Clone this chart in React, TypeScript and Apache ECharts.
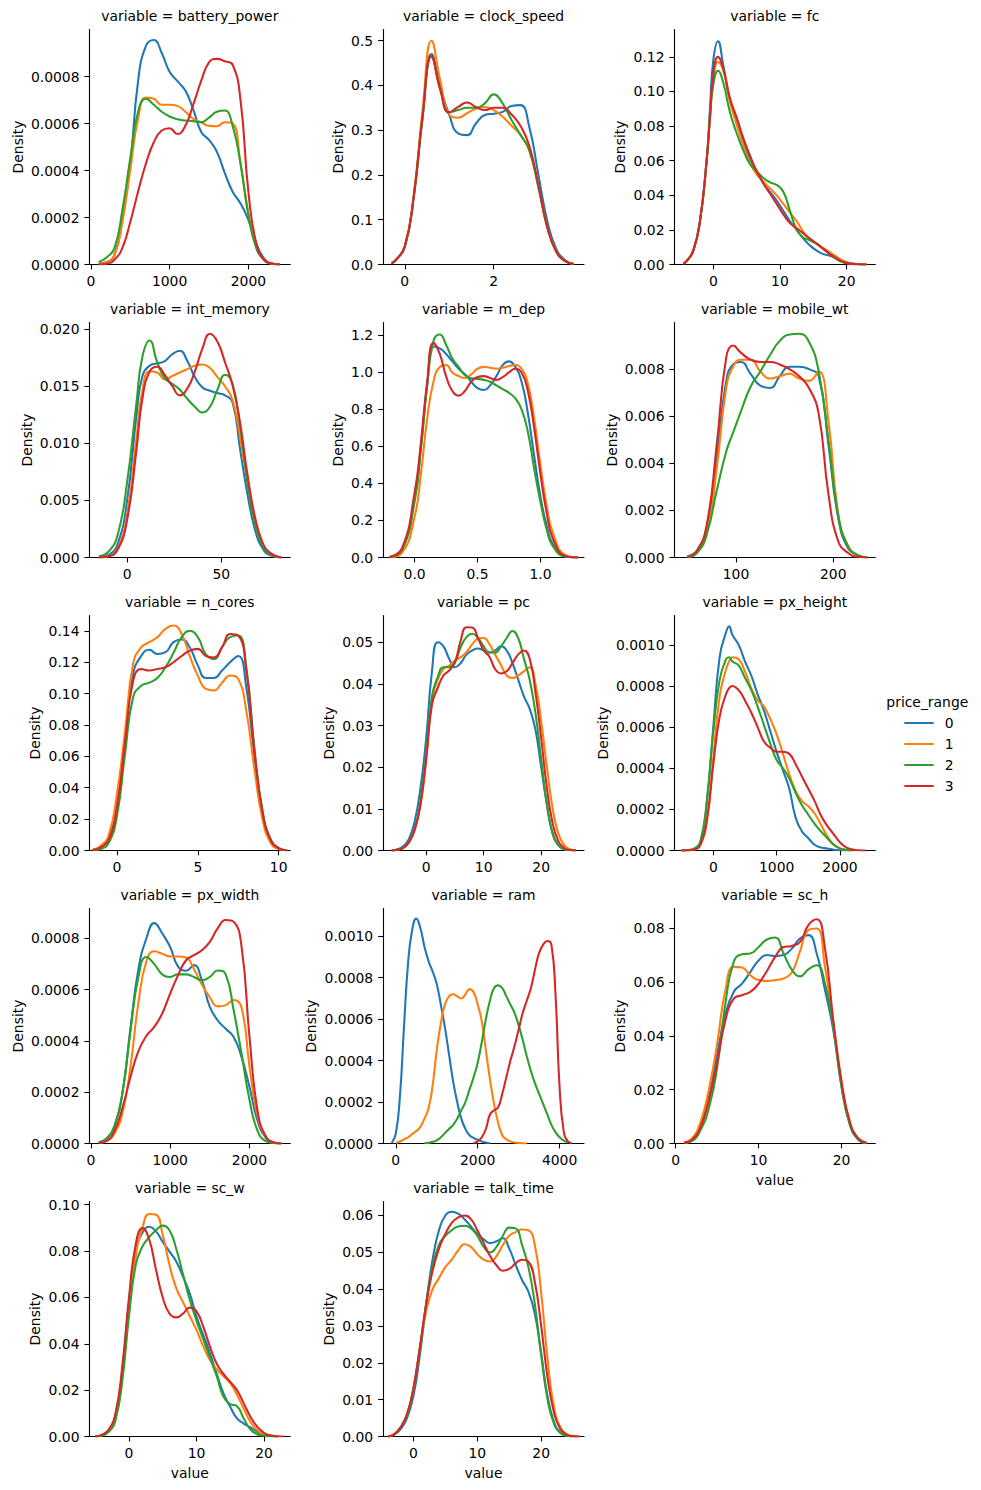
import React, { useEffect, useRef } from "react";
import * as echarts from "echarts";

const FONT_FAMILY = "DejaVu Sans";
const PRICE_RANGES = ["0", "1", "2", "3"];
const LINE_COLORS = ["#1f77b4", "#ff7f0e", "#2ca02c", "#d62728"];

// ---------- battery_power ----------
const batteryX = [100,200,300,400,500,600,700,800,900,1000,1100,1200,1300,1400,1500,1600,1700,1800,1900,2000,2100,2200,2300,2400];
const battery0 = [0.000004,0.00001,0.00004,0.00019,0.00042,0.00078,0.00093,0.000955,0.0009,0.00082,0.00078,0.00074,0.00066,0.000565,0.00053,0.00048,0.00039,0.00031,0.00026,0.00019,0.00009,0.000026,0.000004,0];
const battery1 = [0.000003,0.00001,0.00004,0.00018,0.0004,0.00062,0.00071,0.000705,0.00068,0.00068,0.000675,0.00065,0.00062,0.000605,0.00059,0.000588,0.000605,0.0006,0.00043,0.00022,0.00008,0.00002,0.000003,0];
const battery2 = [0.00001,0.00003,0.00007,0.00023,0.00045,0.00065,0.000705,0.00068,0.00065,0.00063,0.000618,0.000613,0.00061,0.000605,0.000625,0.00065,0.000655,0.00059,0.00043,0.00021,0.00007,0.00002,0.000003,0];
const battery3 = [0,0.000003,0.00002,0.00007,0.00018,0.00031,0.00043,0.00052,0.00057,0.00058,0.000555,0.00059,0.00068,0.00078,0.00086,0.000875,0.000865,0.00085,0.0007,0.00031,0.00009,0.00002,0.000004,0];
const batteryXTicks = [0, 1000, 2000];
const batteryYTicks = [0, 0.0002, 0.0004, 0.0006, 0.0008];

// ---------- clock_speed ----------
const clockX = [-0.3,-0.2,0,0.2,0.4,0.6,0.8,1.0,1.2,1.4,1.6,1.8,2.0,2.2,2.4,2.6,2.8,3.0,3.2,3.4,3.6,3.8];
const clock0 = [0.003,0.01,0.04,0.15,0.33,0.47,0.397,0.334,0.293,0.289,0.315,0.334,0.337,0.341,0.354,0.356,0.307,0.203,0.099,0.036,0.01,0.001];
const clock1 = [0.003,0.01,0.04,0.155,0.345,0.5,0.41,0.335,0.328,0.338,0.348,0.352,0.345,0.33,0.31,0.29,0.255,0.175,0.085,0.03,0.008,0.001];
const clock2 = [0.003,0.01,0.04,0.15,0.33,0.465,0.39,0.34,0.345,0.35,0.35,0.36,0.38,0.36,0.323,0.29,0.255,0.175,0.085,0.03,0.008,0.001];
const clock3 = [0.003,0.01,0.04,0.15,0.33,0.465,0.39,0.34,0.352,0.362,0.352,0.345,0.35,0.35,0.335,0.31,0.265,0.18,0.085,0.03,0.008,0.001];
const clockXTicks = [0, 2];
const clockYTicks = [0, 0.1, 0.2, 0.3, 0.4, 0.5];

// ---------- fc ----------
const fcX = [-4.5,-4,-3,-2,-1,-0.5,0,0.7,1.5,2.5,3.5,4.5,5.5,6.5,7.5,8.5,9.5,10.5,11.5,12.5,13.5,14.5,15.5,16.5,17.5,18.5,19.5,20.5,21.5,23];
const fc0 = [0.0005,0.002,0.008,0.025,0.06,0.09,0.118,0.129,0.115,0.095,0.082,0.071,0.061,0.054,0.047,0.042,0.037,0.031,0.025,0.02,0.015,0.011,0.008,0.006,0.005,0.0035,0.002,0.0008,0.0003,0];
const fc1 = [0.0005,0.002,0.008,0.025,0.06,0.085,0.108,0.117,0.112,0.094,0.081,0.069,0.059,0.052,0.048,0.044,0.04,0.035,0.03,0.025,0.019,0.014,0.012,0.0095,0.007,0.0045,0.002,0.0008,0.0002,0];
const fc2 = [0.0005,0.002,0.008,0.025,0.06,0.085,0.104,0.112,0.105,0.088,0.076,0.066,0.058,0.054,0.05,0.0475,0.046,0.042,0.031,0.02,0.0155,0.014,0.012,0.009,0.006,0.003,0.0012,0.0004,0.0001,0];
const fc3 = [0.0005,0.002,0.008,0.025,0.06,0.085,0.11,0.12,0.113,0.096,0.085,0.073,0.063,0.054,0.047,0.041,0.035,0.029,0.024,0.021,0.018,0.015,0.012,0.009,0.006,0.0035,0.0015,0.0005,0.0001,0];
const fcXTicks = [0, 10, 20];
const fcYTicks = [0, 0.02, 0.04, 0.06, 0.08, 0.1, 0.12];

// ---------- int_memory ----------
const imX = [-15,-10,-5,0,5,8,12,16,20,24,28,32,36,40,44,48,52,56,60,64,68,72,76,82];
const im0 = [0,0.0002,0.0012,0.005,0.0125,0.0158,0.0168,0.017,0.0172,0.0178,0.0181,0.0172,0.0158,0.0149,0.0146,0.0144,0.0142,0.0136,0.0095,0.0055,0.0024,0.0008,0.0002,0];
const im1 = [0,0.0001,0.0008,0.0038,0.0105,0.0145,0.0163,0.0162,0.0156,0.0159,0.0162,0.0165,0.0168,0.0169,0.0166,0.0158,0.015,0.0138,0.0105,0.0065,0.003,0.0011,0.0003,0];
const im2 = [0.0001,0.0005,0.002,0.0066,0.0136,0.0175,0.019,0.0171,0.0157,0.0152,0.0147,0.0139,0.0132,0.0127,0.0132,0.0147,0.016,0.0152,0.0115,0.0065,0.003,0.001,0.0003,0];
const im3 = [0,0.0001,0.0007,0.0033,0.0095,0.0138,0.0163,0.0167,0.016,0.015,0.0142,0.0148,0.0163,0.0183,0.0196,0.0189,0.0171,0.0151,0.0118,0.0072,0.0035,0.0013,0.0004,0];
const imXTicks = [0, 50];
const imYTicks = [0, 0.005, 0.01, 0.015, 0.02];

// ---------- m_dep ----------
const mdX = [-0.2,-0.1,0,0.05,0.1,0.15,0.2,0.25,0.3,0.35,0.4,0.45,0.5,0.55,0.6,0.65,0.7,0.75,0.8,0.85,0.9,0.95,1.0,1.05,1.1,1.2,1.3];
const md0 = [0.002,0.04,0.32,0.6,0.93,1.14,1.13,1.1,1.06,1.02,0.99,0.95,0.915,0.905,0.93,0.98,1.04,1.06,1.03,0.95,0.78,0.55,0.33,0.17,0.07,0.005,0];
const md1 = [0.001,0.025,0.22,0.45,0.75,0.95,1.03,1.04,1.0,0.98,0.97,0.99,1.02,1.03,1.025,1.02,1.025,1.035,1.04,1.02,0.94,0.75,0.5,0.28,0.13,0.012,0];
const md2 = [0.002,0.04,0.3,0.58,0.93,1.17,1.205,1.15,1.075,1.03,0.985,0.968,0.965,0.96,0.95,0.93,0.91,0.89,0.86,0.8,0.68,0.48,0.3,0.15,0.06,0.004,0];
const md3 = [0.002,0.05,0.35,0.62,0.95,1.16,1.1,0.98,0.9,0.875,0.9,0.95,0.975,0.98,0.97,0.96,0.975,1.0,1.02,1.0,0.9,0.7,0.45,0.24,0.1,0.008,0];
const mdXTicks = [0, 0.5, 1];
const mdYTicks = [0, 0.2, 0.4, 0.6, 0.8, 1, 1.2];

// ---------- mobile_wt ----------
const mwX = [50,60,70,80,90,97,105,115,125,135,145,155,165,175,185,195,205,215,225,235];
const mw0 = [0.00005,0.0003,0.0013,0.0042,0.0075,0.0082,0.0083,0.0078,0.0073,0.0072,0.0077,0.0081,0.0081,0.008,0.0077,0.0048,0.0017,0.0004,0.0001,0];
const mw1 = [0.00003,0.0002,0.001,0.0037,0.0072,0.0081,0.0084,0.0084,0.0079,0.0076,0.0077,0.0078,0.0076,0.0075,0.0079,0.0058,0.0019,0.0005,0.0001,0];
const mw2 = [0.00002,0.0002,0.001,0.0028,0.0045,0.0053,0.0062,0.00725,0.0079,0.0086,0.0092,0.00947,0.0095,0.00916,0.0079,0.005,0.0018,0.0005,0.0001,0];
const mw3 = [0.00003,0.0003,0.0014,0.0047,0.0085,0.009,0.0087,0.0084,0.0083,0.0083,0.0082,0.008,0.0077,0.0072,0.0061,0.0027,0.0007,0.0002,0.00003,0];
const mwXTicks = [100, 200];
const mwYTicks = [0, 0.002, 0.004, 0.006, 0.008];

// ---------- n_cores ----------
const ncX = [-1.5,-1,-0.5,0,0.5,1,1.5,2,2.5,3,3.5,4,4.5,5,5.5,6,6.5,7,7.5,8,8.5,9,9.5,10,10.5];
const nc0 = [0.0005,0.002,0.008,0.03,0.072,0.1125,0.124,0.128,0.1253,0.1264,0.1328,0.1345,0.1296,0.118,0.11,0.11,0.1147,0.12,0.124,0.104,0.06,0.024,0.007,0.0015,0.0002];
const nc1 = [0.0005,0.003,0.01,0.036,0.076,0.119,0.1296,0.1328,0.136,0.1413,0.1434,0.138,0.124,0.1115,0.103,0.102,0.107,0.1115,0.1094,0.089,0.052,0.02,0.005,0.001,0.0002];
const nc2 = [0.0002,0.001,0.005,0.022,0.0615,0.0977,0.105,0.107,0.11,0.1168,0.126,0.136,0.14,0.136,0.125,0.122,0.1296,0.136,0.137,0.1168,0.065,0.025,0.007,0.0015,0.0002];
const nc3 = [0.0003,0.002,0.007,0.027,0.069,0.108,0.1157,0.1147,0.1157,0.1168,0.12,0.124,0.1274,0.1285,0.124,0.123,0.1296,0.138,0.137,0.1147,0.064,0.025,0.007,0.0015,0.0002];
const ncXTicks = [0, 5, 10];
const ncYTicks = [0, 0.02, 0.04, 0.06, 0.08, 0.1, 0.12, 0.14];

// ---------- pc ----------
const pcX = [-6,-5,-4,-3,-2,-1,0,1,2,3,4,5,6,7,8,9,10,11,12,13,14,15,16,17,18,19,20,21,22,23,24,25,26];
const pc0 = [0,0.0003,0.001,0.0028,0.007,0.015,0.027,0.043,0.05,0.049,0.046,0.044,0.045,0.047,0.048,0.0485,0.048,0.0475,0.048,0.049,0.048,0.045,0.041,0.037,0.034,0.029,0.02,0.011,0.004,0.0013,0.0003,0.0001,0];
const pc1 = [0,0.0002,0.0006,0.002,0.005,0.011,0.022,0.036,0.041,0.0436,0.0444,0.0456,0.0464,0.0476,0.0495,0.0508,0.051,0.0495,0.047,0.0445,0.042,0.0414,0.042,0.043,0.044,0.04,0.031,0.02,0.01,0.004,0.0013,0.0003,0];
const pc2 = [0,0.0002,0.0006,0.002,0.005,0.012,0.023,0.037,0.0416,0.044,0.044,0.0452,0.0488,0.0512,0.052,0.051,0.049,0.0475,0.0475,0.049,0.051,0.0527,0.051,0.046,0.041,0.033,0.022,0.011,0.004,0.0012,0.0003,0.0001,0];
const pc3 = [0,0.0002,0.0006,0.002,0.005,0.011,0.022,0.035,0.039,0.042,0.0432,0.0452,0.0504,0.0536,0.0535,0.051,0.048,0.0465,0.0435,0.0425,0.043,0.045,0.047,0.048,0.046,0.038,0.027,0.015,0.0065,0.0022,0.0006,0.0001,0];
const pcXTicks = [0, 10, 20];
const pcYTicks = [0, 0.01, 0.02, 0.03, 0.04, 0.05];

// ---------- px_height ----------
const phX = [-500,-400,-300,-200,-100,0,100,200,250,300,400,500,600,700,800,900,1000,1100,1200,1300,1400,1500,1600,1700,1800,1900,2000,2100,2200,2300,2400];
const ph0 = [0,0.000001,0.000005,0.00004,0.00024,0.0006,0.00094,0.00106,0.00109,0.00105,0.001,0.00092,0.00085,0.00076,0.00068,0.00058,0.00048,0.00039,0.0003,0.00016,0.000093,0.00006,0.000028,0.000015,0.00001,0.000004,0.000001,0,null,null,null];
const ph1 = [0,0.000001,0.000005,0.00003,0.00015,0.00045,0.00075,0.00088,0.00092,0.00094,0.00093,0.00087,0.00079,0.00073,0.0007,0.00064,0.000565,0.00047,0.00037,0.00029,0.00024,0.000215,0.00018,0.000125,0.00007,0.00003,0.00001,0.000003,0,null,null];
const ph2 = [0,0.000002,0.00001,0.00005,0.00025,0.00058,0.00083,0.00093,0.00094,0.00092,0.0009,0.00084,0.00078,0.0007,0.00061,0.00052,0.00044,0.0004,0.00035,0.00028,0.00022,0.000174,0.00013,0.000093,0.00006,0.000028,0.00001,0.000003,0,null,null];
const ph3 = [0,0.000001,0.000005,0.00003,0.00015,0.00042,0.00065,0.00076,0.00079,0.0008,0.00078,0.00073,0.00067,0.0006,0.00053,0.0005,0.00048,0.00048,0.00047,0.00042,0.00036,0.0003,0.00024,0.00017,0.00012,0.00008,0.00004,0.000015,0.000005,0.000001,0];
const phXTicks = [0, 1000, 2000];
const phYTicks = [0, 0.0002, 0.0004, 0.0006, 0.0008, 0.001];

// ---------- px_width ----------
const pwX = [100,200,300,400,500,600,700,800,900,1000,1100,1200,1300,1400,1500,1600,1700,1800,1900,2000,2100,2200,2300,2400];
const pw0 = [0.000005,0.00002,0.00007,0.0002,0.00045,0.00068,0.0008,0.00086,0.00082,0.000767,0.00069,0.000674,0.000696,0.000637,0.000533,0.00048,0.000448,0.000416,0.000337,0.00022,0.00009,0.000025,0.000003,0];
const pw1 = [0.000003,0.00001,0.00004,0.00012,0.0003,0.00055,0.00071,0.00075,0.00074,0.00073,0.00073,0.000726,0.00068,0.00062,0.00057,0.000535,0.00054,0.00056,0.00053,0.0003,0.00011,0.00003,0.000005,0];
const pw2 = [0.000005,0.00002,0.00007,0.0002,0.00044,0.00065,0.000728,0.0007,0.00066,0.00065,0.00066,0.00066,0.00065,0.000637,0.00065,0.000675,0.00066,0.00052,0.00035,0.00017,0.00005,0.00001,0.000002,0];
const pw3 = [0.000002,0.00001,0.00005,0.00014,0.00026,0.00036,0.00042,0.000455,0.000507,0.000585,0.000657,0.000715,0.000735,0.000754,0.000787,0.00084,0.000872,0.000865,0.000767,0.000415,0.00013,0.00003,0.000005,0];
const pwXTicks = [0, 1000, 2000];
const pwYTicks = [0, 0.0002, 0.0004, 0.0006, 0.0008];

// ---------- ram ----------
const ramX = [-100,0,100,200,300,400,500,600,700,800,900,1000,1100,1200,1300,1400,1500,1600,1700,1800,1900,2000,2100,2200,2300,2400,2500,2600,2700,2800,2900,3000,3100,3200,3300,3400,3500,3600,3700,3800,3900,4000,4100,4200,4300,4400];
const ram0 = [0.000003,0.000047,0.000224,0.00056,0.00087,0.00103,0.001085,0.00104,0.00095,0.00088,0.00083,0.00077,0.00067,0.00056,0.00043,0.0003,0.0002,0.00012,0.00007,0.00004,0.000027,0.000018,0.00001,0.000005,0.000001,
  null,null,null,null,null,null,null,null,null,null,null,null,null,null,null,null,null,null,null,null,null];
const ram1 = [null,0.000003,0.00001,0.00002,0.00003,0.000045,0.00006,0.00008,0.00012,0.00017,0.00028,0.00045,0.00058,0.00067,0.00071,0.00072,0.00071,0.0007,0.00072,0.000745,0.00073,0.00067,0.00059,0.00045,0.00031,0.00019,0.0001,0.00004,0.00002,0.00001,0.000005,0.000003,0.000001,0,
  null,null,null,null,null,null,null,null,null,null,null,null];
const ram2 = [null,null,null,null,null,null,null,null,
  0.000001,0.000003,0.000008,0.000015,0.00003,0.00005,0.00007,0.00009,0.00012,0.00016,0.0002,0.00026,0.00032,0.00039,0.00049,0.0006,0.00069,0.00075,0.000763,0.00075,0.00071,0.00067,0.00063,0.00057,0.0005,0.00042,0.00035,0.00029,0.00024,0.00019,0.00014,0.00009,0.000055,0.00003,0.000015,0.000004,
  null,null];
const ram3 = [null,null,null,null,null,null,null,null,null,null,null,null,null,null,null,null,null,null,null,null,
  0.000002,0.00001,0.00003,0.00007,0.00014,0.00016,0.000175,0.00024,0.00032,0.0004,0.00047,0.00055,0.00063,0.00069,0.00075,0.00084,0.00092,0.00096,0.000977,0.00096,0.00072,0.00027,0.00006,0.00001,0.000002,
  null];
const ramXTicks = [0, 2000, 4000];
const ramYTicks = [0, 0.0002, 0.0004, 0.0006, 0.0008, 0.001];

// ---------- sc_h ----------
const shX = [1,2,3,4,5,6,7,8,9,10,11,12,13,14,15,16,17,18,19,20,21,22,23];
const sh0 = [0.0003,0.0015,0.007,0.017,0.033,0.048,0.0563,0.0594,0.0637,0.068,0.07,0.0696,0.07,0.0724,0.0762,0.0774,0.0706,0.057,0.042,0.021,0.007,0.0015,0.0002];
const sh1 = [0.0005,0.002,0.008,0.02,0.037,0.057,0.0656,0.0654,0.0625,0.0607,0.0604,0.0607,0.0613,0.0635,0.0715,0.0793,0.0799,0.0656,0.0445,0.022,0.0075,0.0017,0.0002];
const sh2 = [0.0002,0.001,0.005,0.013,0.028,0.052,0.0675,0.0703,0.0706,0.073,0.0758,0.0765,0.0706,0.0646,0.0621,0.0647,0.0662,0.0594,0.0433,0.021,0.007,0.0015,0.0002];
const sh3 = [0.0003,0.0015,0.006,0.016,0.03,0.0458,0.0538,0.0551,0.0563,0.0594,0.0641,0.0693,0.073,0.0734,0.0749,0.0811,0.0833,0.0724,0.0458,0.023,0.008,0.002,0.0003];
const shXTicks = [0, 10, 20];
const shYTicks = [0, 0.02, 0.04, 0.06, 0.08];

// ---------- sc_w ----------
const swX = [-5,-4,-3,-2,-1,0,1,2,3,4,5,6,7,8,9,10,11,12,13,14,15,16,17,18,19,20,21,22,23];
const sw0 = [0,0.0006,0.0025,0.009,0.028,0.058,0.08,0.088,0.0905,0.0885,0.084,0.0798,0.0755,0.069,0.0618,0.0517,0.0438,0.0359,0.027,0.0186,0.0128,0.0078,0.0056,0.0039,0.002,0.0007,0.0002,0,null];
const sw1 = [0,0.0006,0.0025,0.008,0.025,0.055,0.078,0.09,0.096,0.0957,0.087,0.074,0.064,0.058,0.052,0.046,0.039,0.033,0.029,0.026,0.023,0.018,0.012,0.0063,0.0027,0.0008,0.0002,0,null];
const sw2 = [0,0.0004,0.002,0.007,0.024,0.052,0.074,0.082,0.086,0.089,0.091,0.089,0.081,0.07,0.059,0.05,0.042,0.034,0.026,0.0171,0.014,0.0131,0.0078,0.003,0.001,0.0003,0.0001,0,null];
const sw3 = [0,0.0008,0.003,0.01,0.03,0.06,0.083,0.09,0.085,0.072,0.06,0.053,0.0514,0.053,0.0556,0.054,0.0474,0.0388,0.0314,0.027,0.0236,0.02,0.0143,0.0085,0.0042,0.0016,0.0005,0.0001,0];
const swXTicks = [0, 10, 20];
const swYTicks = [0, 0.02, 0.04, 0.06, 0.08, 0.1];

// ---------- talk_time ----------
const ttX = [-4,-3,-2,-1,0,1,2,3,4,5,6,7,8,9,10,11,12,13,14,15,16,17,18,19,20,21,22,23,24,25,26];
const tt0 = [0,0.0005,0.002,0.005,0.011,0.022,0.036,0.048,0.056,0.06,0.061,0.0605,0.059,0.057,0.055,0.0535,0.0525,0.053,0.0538,0.051,0.0466,0.0425,0.0393,0.0334,0.0226,0.0108,0.004,0.001,0.0002,0,null];
const tt1 = [0,0.0007,0.0025,0.006,0.013,0.024,0.034,0.04,0.043,0.046,0.048,0.0505,0.0522,0.0515,0.0495,0.048,0.0475,0.049,0.052,0.0545,0.0555,0.0562,0.056,0.052,0.039,0.021,0.008,0.0025,0.0006,0.0001,0];
const tt2 = [0,0.0006,0.0025,0.006,0.013,0.024,0.036,0.046,0.052,0.0545,0.056,0.057,0.0572,0.0565,0.0545,0.0515,0.05,0.0515,0.0545,0.0567,0.0565,0.052,0.046,0.036,0.022,0.01,0.0035,0.001,0.0002,0,null];
const tt3 = [0,0.0006,0.0025,0.006,0.013,0.024,0.036,0.045,0.051,0.055,0.058,0.0595,0.06,0.059,0.056,0.0525,0.049,0.0465,0.045,0.0455,0.047,0.048,0.0475,0.042,0.03,0.016,0.0065,0.002,0.0005,0.0001,0];
const ttXTicks = [0, 10, 20];
const ttYTicks = [0, 0.01, 0.02, 0.03, 0.04, 0.05, 0.06];

// ---------- panel table (built from the arrays above) ----------
const panels = [
  { name: "battery_power", x: batteryX, ys: [battery0, battery1, battery2, battery3], xMin: -19, xMax: 2532, yMax: 0.001, xTicks: batteryXTicks, yTicks: batteryYTicks, xDec: 0, yDec: 4 },
  { name: "clock_speed", x: clockX, ys: [clock0, clock1, clock2, clock3], xMin: -0.49, xMax: 4.03, yMax: 0.525, xTicks: clockXTicks, yTicks: clockYTicks, xDec: 0, yDec: 1 },
  { name: "fc", x: fcX, ys: [fc0, fc1, fc2, fc3], xMin: -5.85, xMax: 24.3, yMax: 0.1358, xTicks: fcXTicks, yTicks: fcYTicks, xDec: 0, yDec: 2 },
  { name: "int_memory", x: imX, ys: [im0, im1, im2, im3], xMin: -20.1, xMax: 86.7, yMax: 0.02058, xTicks: imXTicks, yTicks: imYTicks, xDec: 0, yDec: 3 },
  { name: "m_dep", x: mdX, ys: [md0, md1, md2, md3], xMin: -0.251, xMax: 1.346, yMax: 1.27, xTicks: mdXTicks, yTicks: mdYTicks, xDec: 1, yDec: 1 },
  { name: "mobile_wt", x: mwX, ys: [mw0, mw1, mw2, mw3], xMin: 36.6, xMax: 243.2, yMax: 0.00998, xTicks: mwXTicks, yTicks: mwYTicks, xDec: 0, yDec: 3 },
  { name: "n_cores", x: ncX, ys: [nc0, nc1, nc2, nc3], xMin: -1.71, xMax: 10.72, yMax: 0.1498, xTicks: ncXTicks, yTicks: ncYTicks, xDec: 0, yDec: 2 },
  { name: "pc", x: pcX, ys: [pc0, pc1, pc2, pc3], xMin: -7.52, xMax: 27.45, yMax: 0.0564, xTicks: pcXTicks, yTicks: pcYTicks, xDec: 0, yDec: 2 },
  { name: "px_height", x: phX, ys: [ph0, ph1, ph2, ph3], xMin: -616, xMax: 2558, yMax: 0.001143, xTicks: phXTicks, yTicks: phYTicks, xDec: 0, yDec: 4 },
  { name: "px_width", x: pwX, ys: [pw0, pw1, pw2, pw3], xMin: -19, xMax: 2514, yMax: 0.000917, xTicks: pwXTicks, yTicks: pwYTicks, xDec: 0, yDec: 4 },
  { name: "ram", x: ramX, ys: [ram0, ram1, ram2, ram3], xMin: -312, xMax: 4596, yMax: 0.001134, xTicks: ramXTicks, yTicks: ramYTicks, xDec: 0, yDec: 4 },
  { name: "sc_h", x: shX, ys: [sh0, sh1, sh2, sh3], xMin: -0.16, xMax: 24.06, yMax: 0.0873, xTicks: shXTicks, yTicks: shYTicks, xDec: 0, yDec: 2 },
  { name: "sc_w", x: swX, ys: [sw0, sw1, sw2, sw3], xMin: -5.88, xMax: 23.9, yMax: 0.1014, xTicks: swXTicks, yTicks: swYTicks, xDec: 0, yDec: 2 },
  { name: "talk_time", x: ttX, ys: [tt0, tt1, tt2, tt3], xMin: -4.76, xMax: 26.7, yMax: 0.0638, xTicks: ttXTicks, yTicks: ttYTicks, xDec: 0, yDec: 2 },
];
const bottomPanels = ["sc_h", "sc_w", "talk_time"];

// ---------- layout ----------
const COL_LEFT = [89.3, 383, 674.3];
const ROW_TOP = [29.5, 322.5, 615.5, 908.5, 1201.5];
const PANEL_W = 201;
const PANEL_H = 235;
const FS = 13.9;

function textWidth(s: string) {
  let w = 0;
  for (const ch of s) w += ch === "." ? 0.318 : 0.636;
  return w * FS;
}

function buildOption() {
  const grids: any[] = [];
  const xAxes: any[] = [];
  const yAxes: any[] = [];
  const series: any[] = [];
  const graphics: any[] = [];
  const axisLine = { show: true, onZero: false, lineStyle: { color: "#000", width: 1.1 } };

  panels.forEach((p, i) => {
    const left = COL_LEFT[i % 3];
    const top = ROW_TOP[Math.floor(i / 3)];
    grids.push({ left, top, width: PANEL_W, height: PANEL_H, containLabel: false, outerBoundsMode: "none", show: false });
    const labelMax = Math.max(...p.yTicks.map((v) => textWidth(v.toFixed(p.yDec))));
    const isBottom = bottomPanels.indexOf(p.name) >= 0;
    xAxes.push({
      type: "value",
      gridIndex: i,
      min: p.xMin,
      max: p.xMax,
      position: "bottom",
      axisLine,
      axisTick: { show: true, inside: false, length: 4.9, customValues: p.xTicks, lineStyle: { color: "#000", width: 1.1 } },
      axisLabel: { show: true, customValues: p.xTicks, margin: 9.8, color: "#000", fontSize: FS, fontFamily: FONT_FAMILY, formatter: (v: number) => v.toFixed(p.xDec) },
      splitLine: { show: false },
      name: isBottom ? "value" : "",
      nameLocation: "middle",
      nameGap: 29,
      nameTextStyle: { color: "#000", fontSize: FS, fontFamily: FONT_FAMILY },
    });
    yAxes.push({
      type: "value",
      gridIndex: i,
      min: 0,
      max: p.yMax,
      position: "left",
      axisLine,
      axisTick: { show: true, inside: false, length: 4.9, customValues: p.yTicks, lineStyle: { color: "#000", width: 1.1 } },
      axisLabel: { show: true, customValues: p.yTicks, margin: 9.8, color: "#000", fontSize: FS, fontFamily: FONT_FAMILY, formatter: (v: number) => v.toFixed(p.yDec) },
      splitLine: { show: false },
      name: "Density",
      nameLocation: "middle",
      nameRotate: 90,
      nameGap: labelMax + 16,
      nameTextStyle: { color: "#000", fontSize: FS, fontFamily: FONT_FAMILY },
    });
    p.ys.forEach((ys, c) => {
      const data = p.x
        .map((xv, k) => [xv, ys[k]])
        .filter((d) => d[1] !== null && d[1] !== undefined);
      series.push({
        type: "line",
        name: PRICE_RANGES[c],
        xAxisIndex: i,
        yAxisIndex: i,
        data,
        symbol: "none",
        showSymbol: false,
        smooth: 0.5,
        silent: true,
        z: 2 + c,
        lineStyle: { color: LINE_COLORS[c], width: 2.08 },
        itemStyle: { color: LINE_COLORS[c] },
      });
    });
    graphics.push({
      type: "text",
      x: left + PANEL_W / 2,
      y: top - 13.3,
      silent: true,
      style: {
        text: "variable = " + p.name,
        fill: "#000",
        fontSize: FS,
        fontFamily: FONT_FAMILY,
        align: "center",
        verticalAlign: "middle",
      },
    });
  });

  graphics.push({
    type: "text",
    x: 927.3,
    y: 702.3,
    silent: true,
    style: { text: "price_range", fill: "#000", fontSize: FS, fontFamily: FONT_FAMILY, align: "center", verticalAlign: "middle" },
  });

  return {
    animation: false,
    backgroundColor: "#ffffff",
    textStyle: { fontFamily: FONT_FAMILY },
    grid: grids,
    xAxis: xAxes,
    yAxis: yAxes,
    series,
    legend: {
      show: true,
      data: PRICE_RANGES,
      orient: "vertical",
      left: 898.3,
      top: 711,
      itemWidth: 29.4,
      itemHeight: 14,
      itemGap: 7,
      selectedMode: false,
      itemStyle: { opacity: 0 },
      textStyle: { color: "#000", fontSize: FS, fontFamily: FONT_FAMILY, padding: [0, 0, 0, 6] },
    },
    graphic: graphics,
  };
}

export default function App() {
  const ref = useRef<HTMLDivElement>(null);
  useEffect(() => {
    if (!ref.current) return;
    const chart = echarts.init(ref.current, null, { renderer: "svg", width: 981, height: 1490 });
    chart.setOption(buildOption() as any);
    return () => {
      chart.dispose();
    };
  }, []);
  return (
    <div
      ref={ref}
      style={{ position: "absolute", left: 0, top: 0, width: 981, height: 1490, background: "#fff" }}
    />
  );
}
